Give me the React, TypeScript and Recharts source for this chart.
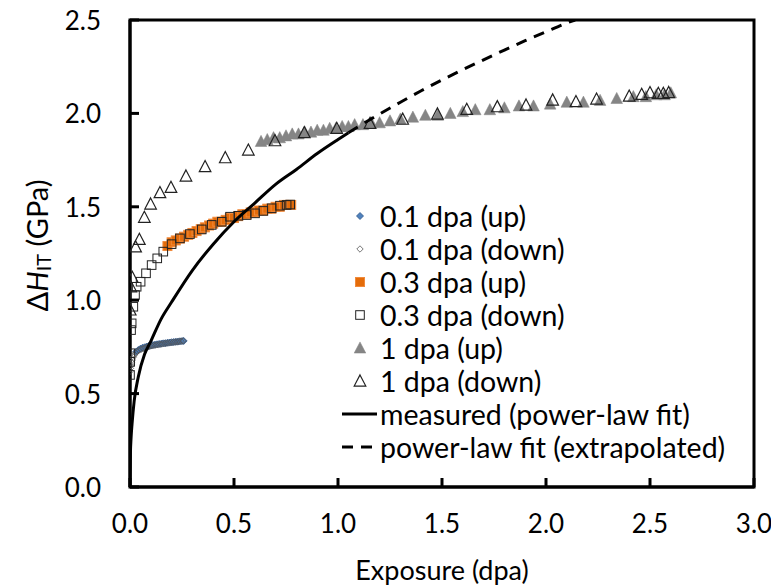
import { Legend, ReferenceArea, Scatter, ScatterChart, XAxis, YAxis } from "recharts";

const FONT = "Lato, 'Open Sans', sans-serif";

const xTicks = [0, 0.5, 1, 1.5, 2, 2.5, 3];
const yTicks = [0, 0.5, 1, 1.5, 2, 2.5];

// 0.1 dpa
const up01X = [0.03, 0.04, 0.05, 0.06, 0.07, 0.08, 0.09, 0.1, 0.11, 0.12, 0.13, 0.14, 0.15, 0.16, 0.17, 0.18, 0.19, 0.2, 0.21, 0.22, 0.23, 0.24, 0.25, 0.258];
const up01Y = [0.725, 0.733, 0.74, 0.745, 0.748, 0.752, 0.755, 0.757, 0.76, 0.762, 0.764, 0.766, 0.767, 0.769, 0.77, 0.772, 0.773, 0.775, 0.776, 0.777, 0.778, 0.78, 0.781, 0.782];
const down01X = [0.255, 0.245, 0.235, 0.225, 0.215, 0.205, 0.195, 0.185, 0.175, 0.165, 0.155, 0.145, 0.135, 0.125, 0.115, 0.105, 0.095, 0.085, 0.075, 0.065, 0.055, 0.045, 0.035, 0.028, 0.022, 0.016, 0.011, 0.007, 0.004, 0.002, 0.001];
const down01Y = [0.782, 0.78, 0.779, 0.777, 0.776, 0.774, 0.773, 0.771, 0.77, 0.768, 0.766, 0.764, 0.762, 0.76, 0.758, 0.756, 0.753, 0.75, 0.746, 0.742, 0.738, 0.733, 0.727, 0.718, 0.708, 0.695, 0.68, 0.665, 0.65, 0.635, 0.62];

// 0.3 dpa
const up03X = [0.18, 0.2, 0.22, 0.24, 0.26, 0.28, 0.3, 0.32, 0.34, 0.36, 0.38, 0.4, 0.42, 0.44, 0.46, 0.48, 0.5, 0.52, 0.54, 0.56, 0.58, 0.6, 0.62, 0.64, 0.66, 0.68, 0.7, 0.72, 0.74, 0.76, 0.775];
const up03Y = [1.29, 1.31, 1.32, 1.33, 1.34, 1.35, 1.36, 1.37, 1.38, 1.39, 1.4, 1.41, 1.42, 1.42, 1.43, 1.44, 1.44, 1.45, 1.46, 1.46, 1.47, 1.47, 1.48, 1.48, 1.49, 1.49, 1.5, 1.5, 1.51, 1.51, 1.51];
const down03X = [0.77, 0.753, 0.721, 0.681, 0.641, 0.601, 0.561, 0.521, 0.481, 0.441, 0.393, 0.345, 0.288, 0.24, 0.2, 0.16, 0.131, 0.104, 0.077, 0.051, 0.032, 0.024, 0.016, 0.008, 0.005, 0.002, 0.001, 0.0];
const down03Y = [1.512, 1.51, 1.506, 1.492, 1.478, 1.465, 1.456, 1.452, 1.447, 1.42, 1.403, 1.379, 1.354, 1.331, 1.3, 1.26, 1.224, 1.188, 1.144, 1.099, 1.072, 1.028, 0.965, 0.876, 0.84, 0.716, 0.67, 0.6];

// 1 dpa
const up1X = [0.63, 0.66, 0.69, 0.72, 0.75, 0.78, 0.81, 0.84, 0.87, 0.9, 0.93, 0.96, 0.99, 1.02, 1.05, 1.08, 1.12, 1.16, 1.2, 1.25, 1.3, 1.36, 1.42, 1.48, 1.54, 1.6, 1.66, 1.73, 1.8, 1.87, 1.94, 2.02, 2.1, 2.18, 2.26, 2.34, 2.42, 2.48, 2.53, 2.57, 2.6];
const up1Y = [1.85, 1.86, 1.87, 1.87, 1.88, 1.89, 1.89, 1.9, 1.9, 1.91, 1.91, 1.92, 1.92, 1.93, 1.93, 1.94, 1.94, 1.95, 1.95, 1.96, 1.97, 1.98, 1.99, 1.99, 2.0, 2.01, 2.02, 2.02, 2.03, 2.04, 2.04, 2.05, 2.06, 2.06, 2.07, 2.08, 2.09, 2.09, 2.1, 2.1, 2.11];
const down1X = [2.59, 2.564, 2.54, 2.5, 2.46, 2.4, 2.243, 2.144, 2.032, 1.904, 1.766, 1.619, 1.478, 1.311, 1.154, 0.994, 0.838, 0.697, 0.569, 0.458, 0.361, 0.269, 0.197, 0.144, 0.099, 0.069, 0.045, 0.027, 0.011, 0.004, 0.001];
const down1Y = [2.112, 2.107, 2.107, 2.111, 2.102, 2.093, 2.077, 2.063, 2.072, 2.045, 2.036, 2.022, 1.997, 1.969, 1.947, 1.92, 1.897, 1.854, 1.804, 1.763, 1.715, 1.665, 1.604, 1.576, 1.515, 1.444, 1.326, 1.286, 1.122, 1.072, 0.948];

// power-law fit
const fitX = [0, 0.002, 0.005, 0.01, 0.02, 0.04, 0.07, 0.1, 0.15, 0.2, 0.3, 0.4, 0.5, 0.6, 0.7, 0.8, 0.9, 1.0, 1.05];
const fitY = [0, 0.18, 0.26, 0.34, 0.46, 0.59, 0.71, 0.78, 0.9, 0.99, 1.16, 1.3, 1.42, 1.52, 1.62, 1.7, 1.785, 1.86, 1.896];
const extX = [1.05, 1.1, 1.2, 1.3, 1.4, 1.5, 1.6, 1.7, 1.8, 1.9, 2.0, 2.1, 2.14];
const extY = [1.896, 1.931, 1.997, 2.06, 2.121, 2.179, 2.234, 2.287, 2.339, 2.389, 2.437, 2.484, 2.5];

const legendLabels = [
  "0.1 dpa (up)",
  "0.1 dpa (down)",
  "0.3 dpa (up)",
  "0.3 dpa (down)",
  "1 dpa (up)",
  "1 dpa (down)",
  "measured (power-law fit)",
  "power-law fit (extrapolated)",
];

const pts = (xs: number[], ys: number[]) => xs.map((x, i) => ({ x, y: ys[i] }));

const BLUE = "#4f81bd";
const BLUE_EDGE = "#2f5588";
const ORANGE = "#e46c0a";
const GRAY = "#858585";

function Diamond({ cx, cy, r, fill, stroke }: any) {
  return (
    <polygon
      points={`${cx},${cy - r} ${cx + r},${cy} ${cx},${cy + r} ${cx - r},${cy}`}
      fill={fill}
      stroke={stroke}
      strokeWidth={0.8}
    />
  );
}

function Square({ cx, cy, r, fill, stroke, sw = 1 }: any) {
  return <rect x={cx - r} y={cy - r} width={2 * r} height={2 * r} fill={fill} stroke={stroke} strokeWidth={sw} />;
}

function Triangle({ cx, cy, r, fill, stroke, sw = 1.2 }: any) {
  const h = r * 1.75;
  return (
    <polygon
      points={`${cx},${cy - h / 2 - 1} ${cx + r},${cy + h / 2} ${cx - r},${cy + h / 2}`}
      fill={fill}
      stroke={stroke}
      strokeWidth={sw}
    />
  );
}

const markers = [
  (cx: number, cy: number) => <Diamond cx={cx} cy={cy} r={3.5} fill={BLUE} stroke={BLUE_EDGE} />,
  (cx: number, cy: number) => <Diamond cx={cx} cy={cy} r={3.2} fill="none" stroke="#555" />,
  (cx: number, cy: number) => <Square cx={cx} cy={cy} r={4.5} fill={ORANGE} stroke="#f08a3c" />,
  (cx: number, cy: number) => <Square cx={cx} cy={cy} r={4.3} fill="none" stroke="#222" />,
  (cx: number, cy: number) => <Triangle cx={cx} cy={cy} r={5.8} fill={GRAY} stroke={GRAY} sw={0.5} />,
  (cx: number, cy: number) => <Triangle cx={cx} cy={cy} r={5.8} fill="none" stroke="#222" />,
];

function XTick({ x, y, payload }: any) {
  return (
    <g>
      <line x1={x} y1={y} x2={x} y2={y - 9} stroke="#000" strokeWidth={3} />
      <text x={x} y={y + 36} textAnchor="middle" dominantBaseline="central" fontSize={26} fontFamily={FONT} fill="#000">
        {Number(payload.value).toFixed(1)}
      </text>
    </g>
  );
}

function YTick({ x, y, payload }: any) {
  return (
    <g>
      <line x1={x} y1={y} x2={x + 9} y2={y} stroke="#000" strokeWidth={3} />
      <text x={x - 29} y={y} textAnchor="end" dominantBaseline="central" fontSize={26} fontFamily={FONT} fill="#000">
        {Number(payload.value).toFixed(1)}
      </text>
    </g>
  );
}

function YLabel({ viewBox }: any) {
  const cx = viewBox.x + 36;
  const cy = viewBox.y + viewBox.height / 2 - 8;
  return (
    <text x={cx} y={cy} transform={`rotate(-90 ${cx} ${cy})`} textAnchor="middle" dominantBaseline="central" fontSize={29} fontFamily={FONT} fill="#000">
      <tspan>Δ</tspan>
      <tspan fontStyle="italic">H</tspan>
      <tspan fontSize={20} dy={7}>IT</tspan>
      <tspan dy={-7}> (GPa)</tspan>
    </text>
  );
}

function XLabel({ viewBox }: any) {
  const cx = viewBox.x + viewBox.width / 2;
  return (
    <text x={cx} y={viewBox.y + 82} textAnchor="middle" dominantBaseline="central" fontSize={27} fontFamily={FONT} fill="#000">
      Exposure (dpa)
    </text>
  );
}

function LegendBox() {
  return (
    <svg width={420} height={270} style={{ display: "block" }}>
      {legendLabels.map((label, i) => {
        const cy = 16 + i * 33;
        let icon;
        if (i < 6) icon = markers[i](25, cy);
        else if (i === 6) icon = <line x1={7} y1={cy} x2={42} y2={cy} stroke="#000" strokeWidth={3} />;
        else icon = <line x1={7} y1={cy} x2={42} y2={cy} stroke="#000" strokeWidth={3} strokeDasharray="11 8" />;
        return (
          <g key={label}>
            {icon}
            <text x={45} y={cy} dominantBaseline="central" fontSize={28.5} fontFamily={FONT} fill="#000">
              {label}
            </text>
          </g>
        );
      })}
    </svg>
  );
}

const series = [
  { name: legendLabels[0], data: pts(up01X, up01Y) },
  { name: legendLabels[1], data: pts(down01X, down01Y) },
  { name: legendLabels[2], data: pts(up03X, up03Y) },
  { name: legendLabels[3], data: pts(down03X, down03Y) },
  { name: legendLabels[4], data: pts(up1X, up1Y) },
  { name: legendLabels[5], data: pts(down1X, down1Y) },
];

export default function App() {
  return (
    <div style={{ position: "absolute", left: 0, top: 0, background: "#fff" }}>
      <ScatterChart width={771} height={588} margin={{ top: 20, right: 17, bottom: 41, left: 0 }}>
        <XAxis
          type="number"
          dataKey="x"
          domain={[0, 3]}
          ticks={xTicks}
          allowDataOverflow
          height={60}
          tickSize={0}
          tickMargin={0}
          tickLine={false}
          axisLine={{ stroke: "#000", strokeWidth: 3 }}
          tick={<XTick />}
          label={{ content: <XLabel /> }}
        />
        <YAxis
          type="number"
          dataKey="y"
          domain={[0, 2.5]}
          ticks={yTicks}
          allowDataOverflow
          width={130}
          tickSize={0}
          tickMargin={0}
          tickLine={false}
          axisLine={{ stroke: "#000", strokeWidth: 3 }}
          tick={<YTick />}
          label={{ content: <YLabel /> }}
        />
        <ReferenceArea x1={0} x2={3} y1={0} y2={2.5} fill="none" stroke="#000" strokeWidth={3} />
        {series.map((s, i) => (
          <Scatter
            key={s.name}
            name={s.name}
            data={s.data}
            isAnimationActive={false}
            shape={(p: any) => markers[i](p.cx, p.cy)}
          />
        ))}
        <Scatter
          name={legendLabels[6]}
          data={pts(fitX, fitY)}
          isAnimationActive={false}
          line={{ stroke: "#000", strokeWidth: 3 }}
          lineJointType="monotoneX"
          shape={() => <g />}
        />
        <Scatter
          name={legendLabels[7]}
          data={pts(extX, extY)}
          isAnimationActive={false}
          line={{ stroke: "#000", strokeWidth: 3, strokeDasharray: "11 8" }}
          lineJointType="monotoneX"
          shape={() => <g />}
        />
        <Legend
          layout="vertical"
          align="center"
          verticalAlign="middle"
          wrapperStyle={{ left: 335, top: 200, width: 420, height: 270 }}
          content={() => <LegendBox />}
        />
      </ScatterChart>
    </div>
  );
}
